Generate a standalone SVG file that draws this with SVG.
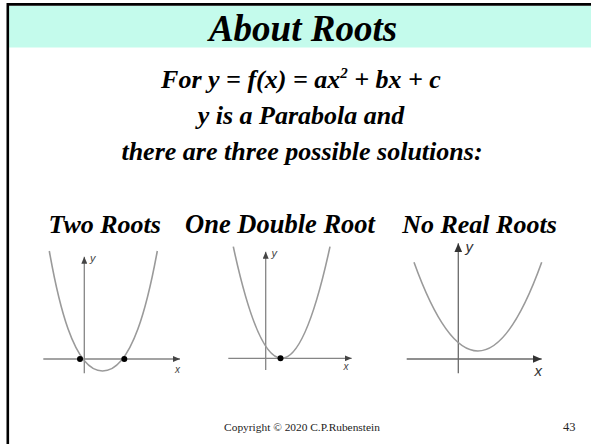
<svg xmlns="http://www.w3.org/2000/svg" width="591" height="444" viewBox="0 0 591 444">
<style>
.h{font-family:"Liberation Serif","Times New Roman",serif;font-weight:bold;font-style:italic;fill:#000;text-anchor:middle}
.ax{stroke:#858585;stroke-width:1.3;fill:none}
.cv{stroke:#9a9a9a;stroke-width:1.6;fill:none}
.lb{font-family:"Liberation Sans",Arial,sans-serif;font-style:italic;fill:#444}
.ft{font-family:"Liberation Serif","Times New Roman",serif;fill:#222}
</style>
<defs>
<marker id="ar" markerUnits="userSpaceOnUse" markerWidth="7" markerHeight="6" refX="7" refY="3" orient="auto">
<path d="M0,0 L7,3 L0,6 z" fill="#444"/>
</marker>
<marker id="ar2" markerUnits="userSpaceOnUse" markerWidth="9" markerHeight="8" refX="9" refY="4" orient="auto">
<path d="M0,0 L9,4 L0,8 z" fill="#333"/>
</marker>
</defs>
<rect id="band" x="9" y="6" width="582" height="41.5" fill="#c4fbec"/>
<path id="frame" d="M7.8,444 V4.4 H591" stroke="#000" stroke-width="2.6" fill="none"/>
<g id="title"><text class="h" x="303" y="41" font-size="37">About Roots</text></g>
<g id="intro">
<text class="h" x="301" y="88" font-size="26">For y = f(x) = ax<tspan font-size="15" dy="-10">2</tspan><tspan dy="10"> + bx + c</tspan></text>
<text class="h" x="301" y="124" font-size="26">y is a Parabola and</text>
<text class="h" x="302" y="160" font-size="26">there are three possible solutions:</text>
</g>
<g id="case-two-roots">
<text class="h" x="104.7" y="233" font-size="26">Two Roots</text>
<g id="graph1">
<line class="ax" x1="43.3" y1="359" x2="180" y2="359" marker-end="url(#ar)"/>
<line class="ax" x1="84.3" y1="373.3" x2="84.3" y2="256.7" marker-end="url(#ar)"/>
<path class="cv" d="M49.3,251 C57.8,299 73.2,371 102.5,371 C132.6,371 148.5,299 157.3,251"/>
<circle cx="80" cy="359" r="3"/>
<circle cx="124.3" cy="359" r="3"/>
<text class="lb" x="90" y="262" font-size="11">y</text>
<text class="lb" x="175" y="372.5" font-size="10">x</text>
</g>
</g>
<g id="case-double-root">
<text class="h" x="280" y="233" font-size="26.5">One Double Root</text>
<g id="graph2">
<line class="ax" x1="228.3" y1="358.3" x2="351.7" y2="358.3" marker-end="url(#ar)"/>
<line class="ax" x1="265.7" y1="370" x2="265.7" y2="251.7" marker-end="url(#ar)"/>
<path class="cv" d="M233.3,246.7 Q281.5,469.9 330,246.7"/>
<circle cx="280.5" cy="358.3" r="3"/>
<text class="lb" x="271.5" y="257" font-size="11">y</text>
<text class="lb" x="343.5" y="369.5" font-size="10">x</text>
</g>
</g>
<g id="case-no-real-roots">
<text class="h" x="479.5" y="233" font-size="26">No Real Roots</text>
<g id="graph3">
<line class="ax" x1="406.7" y1="359" x2="541.7" y2="359" marker-end="url(#ar2)" style="stroke:#6a6a6a"/>
<line class="ax" x1="458.3" y1="373.3" x2="458.3" y2="243.3" marker-end="url(#ar2)" style="stroke:#6a6a6a"/>
<path class="cv" d="M414,262.3 Q477.9,439.7 541.7,262.3"/>
<text class="lb" x="465.5" y="251.5" font-size="15" style="fill:#333">y</text>
<text class="lb" x="534.5" y="375.5" font-size="15" style="fill:#333">x</text>
</g>
</g>
<g id="footer">
<text class="ft" x="302" y="431" font-size="11.4" text-anchor="middle">Copyright © 2020 C.P.Rubenstein</text>
<text class="ft" x="575.5" y="431" font-size="12.5" text-anchor="end">43</text>
</g>
</svg>
